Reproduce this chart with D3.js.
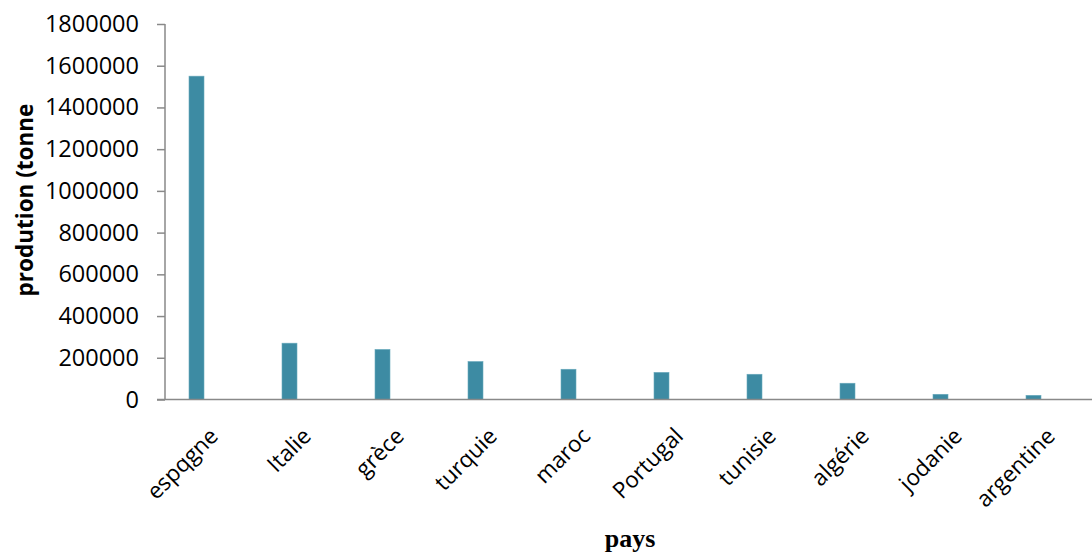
<!DOCTYPE html>
<html>
<head>
<meta charset="utf-8">
<script src="https://cdn.jsdelivr.net/npm/d3@7"></script>
<style>
  html, body { margin: 0; padding: 0; background: #fff; }
  svg { display: block; }
</style>
</head>
<body>
<svg id="chart" width="1092" height="553"></svg>
<script>
const countries = ["espqgne", "Italie", "grèce", "turquie", "maroc", "Portugal", "tunisie", "algérie", "jodanie", "argentine"];
const production = [1550000, 270000, 240000, 182000, 145000, 130000, 121000, 78000, 25000, 20000];
const yTicks = [0, 200000, 400000, 600000, 800000, 1000000, 1200000, 1400000, 1600000, 1800000];
const seriesSlots = ["production", "slot2", "slot3"];

const svg = d3.select("#chart");
const pLeft = 165, pRight = 1095, pTop = 24, pBottom = 399.5;

const x = d3.scaleBand().domain(countries).range([pLeft, pRight]).padding(0);
const sub = d3.scaleBand().domain(seriesSlots).range([0, x.bandwidth()]).paddingInner(0).paddingOuter(1.6);
const y = d3.scaleLinear().domain([0, 1800000]).range([pBottom, pTop]);

const axisColor = "#898989";
const font = "'Open Sans', sans-serif";

// bars
svg.append("g").selectAll("rect").data(countries).join("rect")
  .attr("x", (d) => x(d) + sub("production"))
  .attr("width", sub.bandwidth())
  .attr("y", (d, i) => y(production[i]))
  .attr("height", (d, i) => y(0) - y(production[i]))
  .attr("fill", "#3d8ba3")
  .attr("stroke", "#6aaabd")
  .attr("stroke-width", 0.6);

// y axis
const yAxis = d3.axisLeft(y).tickValues(yTicks).tickSize(8).tickPadding(18).tickFormat(d3.format("d"));
const gy = svg.append("g").attr("transform", `translate(${pLeft},0)`).call(yAxis);
gy.select(".domain").attr("stroke", axisColor).attr("stroke-width", 1.5).attr("d", `M0,${pTop}V${pBottom}`);
gy.selectAll(".tick line").attr("stroke", axisColor).attr("stroke-width", 1.5);
gy.selectAll(".tick text").attr("font-family", font).attr("font-size", 23.5).attr("fill", "#000");

// x axis
const xAxis = d3.axisBottom(x).tickSize(0).tickPadding(0);
const gx = svg.append("g").attr("transform", `translate(0,${pBottom})`).call(xAxis);
gx.select(".domain").attr("stroke", axisColor).attr("stroke-width", 1.5).attr("d", `M${pLeft - 8},0H${pRight}`);
gx.selectAll(".tick text")
  .attr("font-family", font).attr("font-size", 22.5).attr("fill", "#000")
  .attr("text-anchor", "end")
  .attr("y", 0).attr("dy", 0)
  .attr("transform", "translate(8,38) rotate(-45)");

// axis titles
svg.append("text")
  .attr("transform", `translate(33,200) rotate(-90)`)
  .attr("text-anchor", "middle")
  .attr("font-family", font).attr("font-weight", "bold").attr("font-size", 22.5)
  .text("prodution (tonne");

svg.append("text")
  .attr("x", (pLeft + pRight) / 2)
  .attr("y", 547)
  .attr("text-anchor", "middle")
  .attr("font-family", "'Liberation Serif', 'Times New Roman', serif").attr("font-weight", "bold").attr("font-size", 26)
  .text("pays");
</script>
</body>
</html>
